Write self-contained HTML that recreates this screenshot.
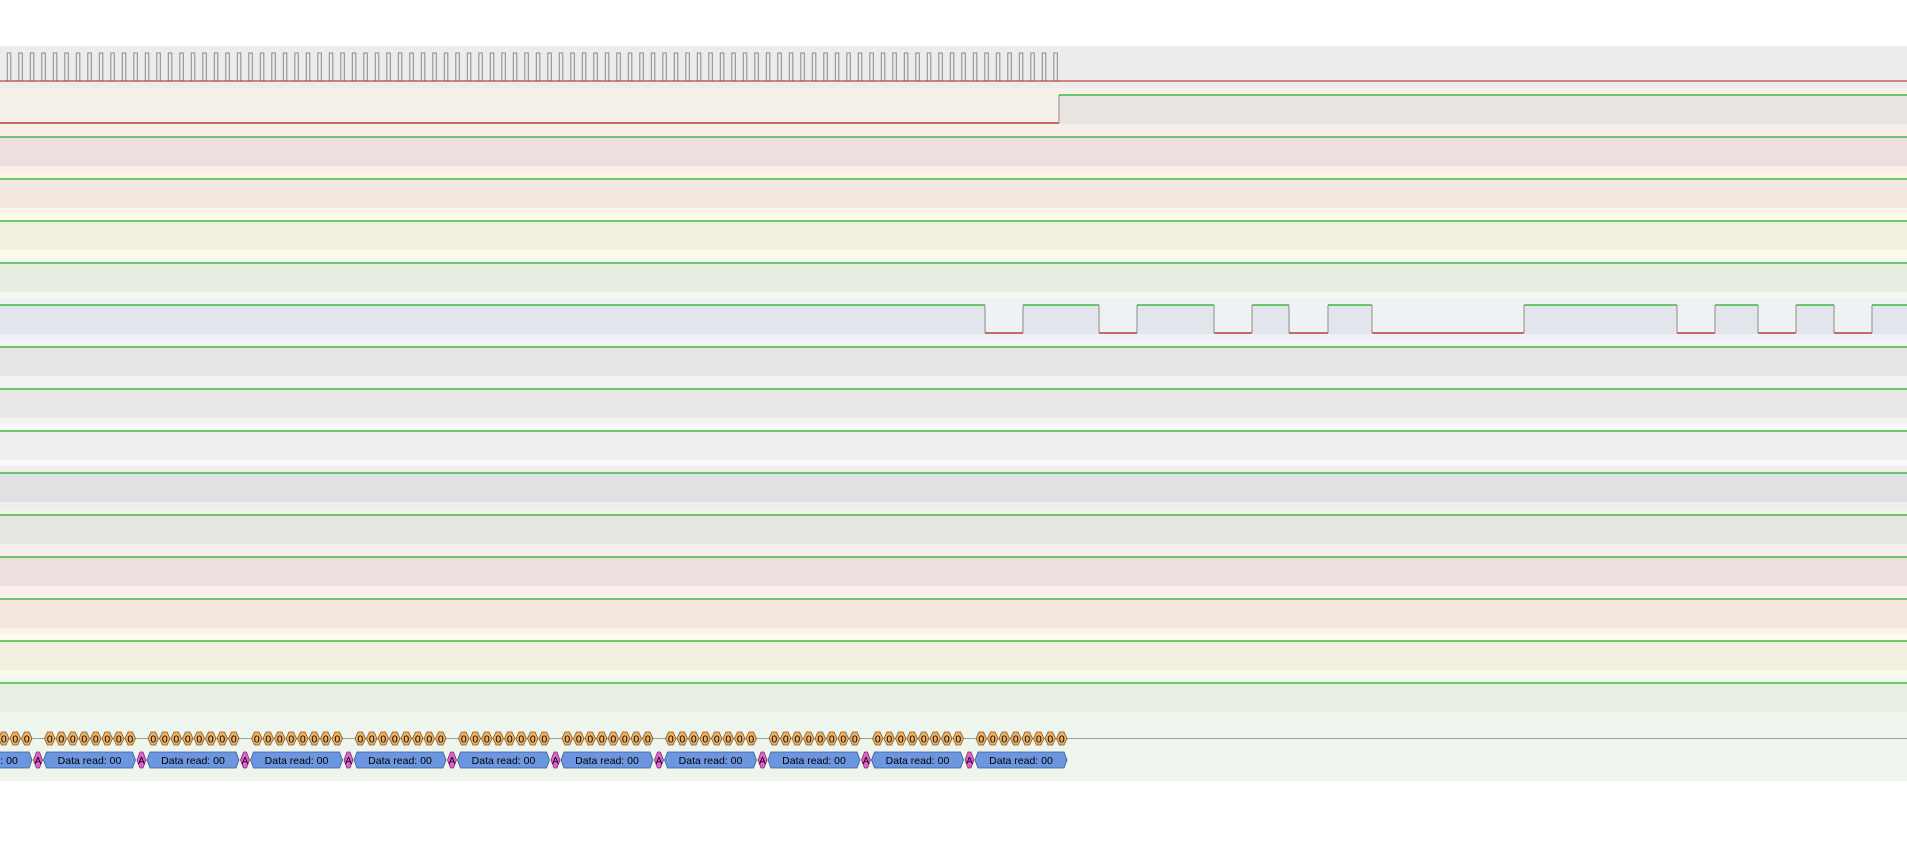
<!DOCTYPE html>
<html><head><meta charset="utf-8"><style>
html,body{margin:0;padding:0;background:#fff;}
svg{display:block;font-family:"Liberation Sans",Arial,sans-serif;}
</style></head><body>
<svg id="chart" width="1907" height="844" viewBox="0 0 1907 844" xmlns="http://www.w3.org/2000/svg"></svg>
<script>
// ---- data ----
const laneLight = ["#ececec","#f5f0ea","#fcecea","#fdf3ea","#fdfbeb","#f3f9ed","#eef2f7","#f3f2f4","#f4f4f4","#fafafa","#eeeeee","#f3f1ec","#fbeced","#fcf2eb","#fdfbeb","#f3f8ed"];
const laneDark  = ["#ececec","#e8e5e0","#eddfdf","#f2e8e0","#f2efe0","#e7efe3","#e2e6ec","#e7e5e8","#e8e8e8","#efefef","#e1e0e2","#e7e5df","#eedfdf","#f3e7de","#f2efdf","#e7f0e3"];
// transitions per lane: [initialLevel, edge times...]
const laneEdges = [
  null, // clock lane handled separately
  [0,1059],
  [1],[1],[1],[1],
  [1,985,1023,1099,1137,1214,1252,1289,1328,1372,1524,1677,1715,1758,1796,1834,1872],
  [1],[1],[1],[1],[1],[1],[1],[1],[1]
];
const clockStart = 7.3, clockPeriod = 11.5, clockHigh = 3.5, clockEnd = 1058;
const byteStart = 44, bitWidth = 11.5, bitsPerByte = 8, byteCount = 10;
const byteValues = ["00","00","00","00","00","00","00","00","00","00"];
const bitValues = ["0","0","0","0","0","0","0","0"];

// ---- geometry ----
const W = 1907, laneTop = 46, laneH = 42;
const hiY = k => 53 + laneH*k, loY = k => 81 + laneH*k;
const svg = document.getElementById('chart');
const NS = "http://www.w3.org/2000/svg";
function mk(tag, attrs, parent){ const e=document.createElementNS(NS,tag); for(const a in attrs) e.setAttribute(a,attrs[a]); (parent||svg).appendChild(e); return e; }

// lanes
for (let k=0;k<16;k++){
  const g = mk('g',{});
  
  
  const bg = mk('rect',{x:0,y:laneTop+laneH*k,width:W,height:laneH,fill:laneLight[k]},g);
  
  
  if (k===0){
    let d = `M0 ${loY(0)}`;
    for (let t=clockStart; t<clockEnd; t+=clockPeriod){
      d += ` L${t} ${loY(0)} L${t} ${hiY(0)} L${t+clockHigh} ${hiY(0)} L${t+clockHigh} ${loY(0)}`;
      const hl = mk('line',{x1:t,x2:t+clockHigh,y1:hiY(0),y2:hiY(0),stroke:"#1fae1f","stroke-width":1},g);
      
      
    }
    const p = mk('path',{d:d,fill:"none",stroke:"#8a8a8a","stroke-width":1},g);
    
    
    const ll = mk('line',{x1:0,x2:W,y1:loY(0),y2:loY(0),stroke:"#b81414","stroke-width":1},g);
    
    
    continue;
  }
  const e = laneEdges[k];
  let level = e[0];
  const times = [0, ...e.slice(1), W];
  for (let i=0;i<times.length-1;i++){
    const x1=times[i], x2=times[i+1];
    if (level){
      const r = mk('rect',{x:x1,y:hiY(k),width:x2-x1,height:loY(k)-hiY(k)+1,fill:laneDark[k]},g);
      
      
    }
    const y = level ? hiY(k) : loY(k);
    const s = mk('line',{x1:x1,x2:x2,y1:y,y2:y,stroke: level?"#1fae1f":"#b81414","stroke-width":1.2},g);
    
    
    if (i>0){
      const v = mk('line',{x1:x1,x2:x1,y1:hiY(k),y2:loY(k),stroke:"#8a8a8a","stroke-width":1},g);
      
      
    }
    level = 1-level;
  }
}

// decoder lane
const dg = mk('g',{});


const dbg = mk('rect',{x:0,y:712,width:W,height:69,fill:"#edf5ec"},dg);


const bl = mk('line',{x1:0,x2:W,y1:738.5,y2:738.5,stroke:"#a0a0a0","stroke-width":1},dg);


function hex(x1,x2,yc,h){ const a=Math.min(3,(x2-x1)/3); return `M${x1} ${yc} L${x1+a} ${yc-h/2} L${x2-a} ${yc-h/2} L${x2} ${yc} L${x2-a} ${yc+h/2} L${x1+a} ${yc+h/2} Z`; }
const byteSpan = bitWidth*(bitsPerByte+1);
for (let b=-1;b<byteCount;b++){
  const s = byteStart + byteSpan*b;
  for (let i=0;i<bitsPerByte;i++){
    const x1 = s+bitWidth*i+0.5, x2 = s+bitWidth*(i+1)-0.5;
    if (x2<0) continue;
    const h = mk('path',{d:hex(x1,x2,738.5,13),fill:"#f0b064",stroke:"#7a5a30","stroke-width":0.8},dg);
    
    
    const t = mk('text',{x:(x1+x2)/2,y:742.5,"font-size":10.5,"text-anchor":"middle",fill:"#000"},dg);
    
    
    t.textContent = bitValues[i];
  }
  const bx1=s-0.5, bx2=s+bitWidth*bitsPerByte-0.5;
  const bp = mk('path',{d:hex(bx1,bx2,760,16),fill:"#6d96e0",stroke:"#3a5a98","stroke-width":0.8},dg);
  
  
  const bt = mk('text',{x:(bx1+bx2)/2,y:764,"font-size":10.5,"text-anchor":"middle",fill:"#000"},dg);
  
  
  bt.textContent = "Data read: " + byteValues[Math.max(b,0)];
  if (b < byteCount-1){
    const ax1 = s+bitWidth*bitsPerByte+1, ax2 = ax1+9;
    const ap = mk('path',{d:hex(ax1,ax2,760,16),fill:"#e060d0",stroke:"#803070","stroke-width":0.8},dg);
    
    
    const at = mk('text',{x:(ax1+ax2)/2,y:764,"font-size":10,"text-anchor":"middle",fill:"#000"},dg);
    
    
    at.textContent = "A";
  }
}
</script>
</body></html>
